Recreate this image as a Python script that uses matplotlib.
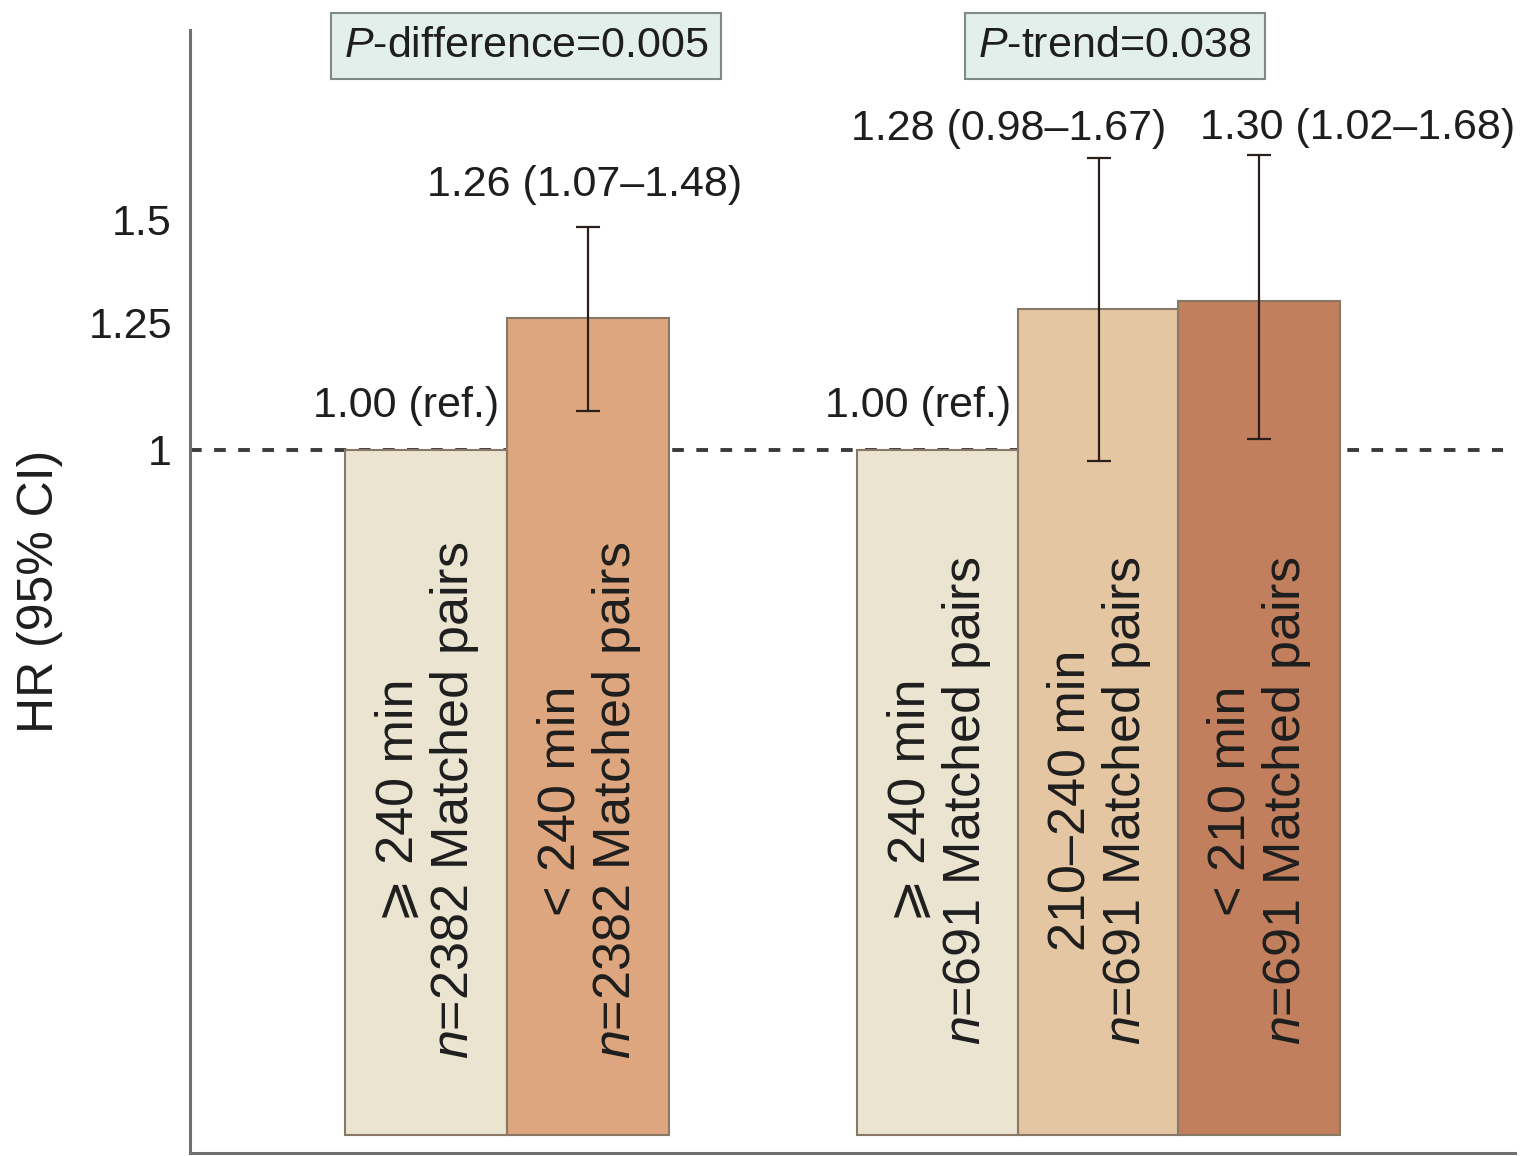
import matplotlib
matplotlib.use("Agg")
import matplotlib.pyplot as plt
from matplotlib.ticker import FixedLocator, FixedFormatter, NullLocator
import matplotlib.transforms as mtransforms

plt.rcParams['font.family'] = ['Liberation Sans', 'DejaVu Sans']
plt.rcParams['mathtext.fontset'] = 'custom'
plt.rcParams['mathtext.rm'] = 'Liberation Sans'
plt.rcParams['mathtext.it'] = 'Liberation Sans:italic'

# hazard ratios with 95% CI, two comparisons side by side
groups = ["P-difference", "P-trend"]
p_labels = ["$P$-difference=0.005", "$P$-trend=0.038"]
bar_group = [0, 0, 1, 1, 1]
durations = ["\u2a7e 240 min", "< 240 min", "\u2a7e 240 min", "210\u2013240 min", "< 210 min"]
pairs = ["$n$=2382 Matched pairs", "$n$=2382 Matched pairs",
         "$n$=691 Matched pairs", "$n$=691 Matched pairs", "$n$=691 Matched pairs"]
hr = [1.00, 1.26, 1.00, 1.28, 1.30]
ci_low = [None, 1.07, None, 0.98, 1.02]
ci_high = [None, 1.48, None, 1.67, 1.68]
yticks = [1, 1.25, 1.5]

colors = ["#ebe4d1", "#dda67f", "#ebe4d1", "#e5c6a2", "#c17f5d"]
xpos = [0, 1, 3.16, 4.15, 5.14]
base = 0.3

fig = plt.figure(figsize=(15.32, 11.56), dpi=100)
ax = fig.add_axes([0.124, 0.0026, 0.865, 0.9715])
ax.set_yscale('log')
ax.set_ylim(0.2907, 2.092)
ax.set_xlim(-1.46, 6.72)

ax.axhline(1, xmin=0, xmax=0.991, color="#3a3a3a", lw=2.8,
           dashes=(3.0, 3.2), zorder=1)

heights = [h - base for h in hr]
ax.bar(xpos, heights, bottom=base, width=1.0, color=colors,
       edgecolor="#8a7866", linewidth=1.5, zorder=2)

for i, x in enumerate(xpos):
    # rotated description inside each bar
    ax.annotate(durations[i], (x, 0.54), xytext=(-20, 0), textcoords='offset points',
                rotation=90, ha='center', va='center', fontsize=37.5, color="#1e1e1e",
                zorder=4)
    ax.annotate(pairs[i], (x, 0.54), xytext=(20, 0), textcoords='offset points',
                rotation=90, ha='center', va='center', fontsize=37.5, color="#1e1e1e",
                zorder=4)

    if ci_low[i] is None:
        ax.annotate(f"{hr[i]:.2f} (ref.)", (x + 0.5, hr[i]), xytext=(-6, 32),
                    textcoords='offset points', ha='right', va='center',
                    fontsize=31, color="#1e1e1e")
        continue

    ax.errorbar(x, hr[i], yerr=[[hr[i] - ci_low[i]], [ci_high[i] - hr[i]]],
                fmt='none', ecolor="#2a1f1a", elinewidth=1.6, capsize=8.5,
                capthick=1.6, zorder=3)

# value labels above the confidence intervals
label_offsets = {1: (-3, 30), 3: (-65, 21), 4: (71, 19.5)}
for i, (dx, dy) in label_offsets.items():
    ax.annotate(f"{hr[i]:.2f} ({ci_low[i]:.2f}\u2013{ci_high[i]:.2f})",
                (xpos[i], ci_high[i]), xytext=(dx, dy), textcoords='offset points',
                ha='center', va='center', fontsize=31, color="#1e1e1e")

# p-value boxes over each group
trans = mtransforms.blended_transform_factory(ax.transData, ax.transAxes)
box_x = [0.614, 4.25]
for g in range(len(groups)):
    ax.text(box_x[g], 0.986, p_labels[g], transform=trans, ha='center', va='center',
            fontsize=31, color="#1e1e1e", clip_on=False,
            bbox=dict(boxstyle='square,pad=0.3', facecolor="#e2efea",
                      edgecolor="#7f8a85", linewidth=1.5))

ax.yaxis.set_major_locator(FixedLocator(yticks))
ax.yaxis.set_major_formatter(FixedFormatter(["1", "1.25", "1.5"]))
ax.yaxis.set_minor_locator(NullLocator())
ax.tick_params(axis='y', length=0, pad=13, labelsize=31, labelcolor="#1e1e1e")
ax.set_xticks([])
ax.set_ylabel("HR (95% CI)", fontsize=36, labelpad=18, color="#1e1e1e")

for side in ['top', 'right']:
    ax.spines[side].set_visible(False)
for side in ['left', 'bottom']:
    ax.spines[side].set_color("#707070")
    ax.spines[side].set_linewidth(2.2)

fig.savefig("out.png", dpi=100)
